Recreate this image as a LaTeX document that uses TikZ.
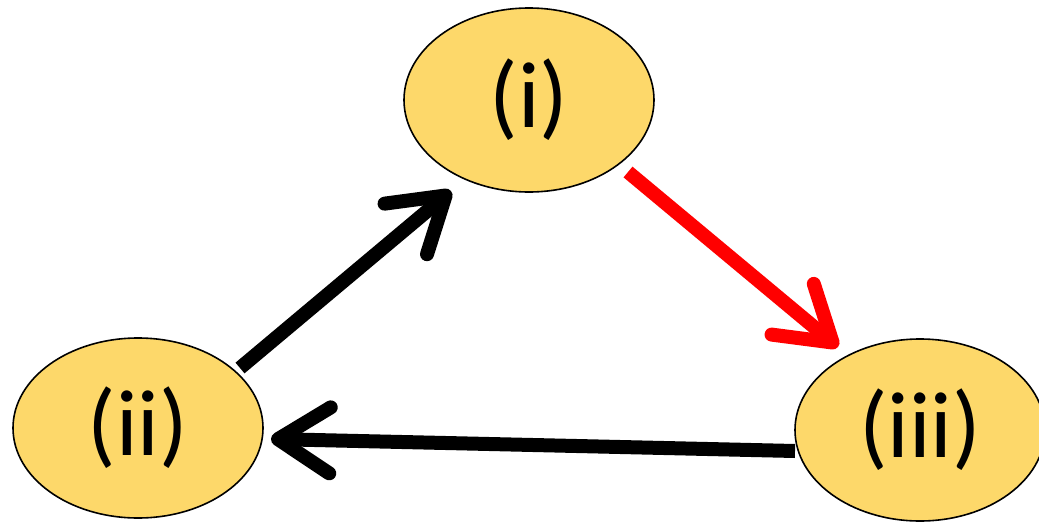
\documentclass[tikz,border=0pt]{standalone}
\usepackage{fontspec}
\setmainfont{Carlito}
\usetikzlibrary{arrows.meta,shapes.geometric}
\definecolor{nodefill}{RGB}{253,216,106}
\begin{document}
\begin{tikzpicture}[x=1pt,y=-1pt,
  state/.style={ellipse,draw=black,line width=1.6pt,fill=nodefill,minimum width=250pt,minimum height=184pt,inner sep=0pt,font=\fontsize{94}{100}\selectfont},
  bigarrow/.style={line width=14pt,-{Straight Barb[length=52pt,width=66pt,round]}}
]
\useasboundingbox (0,0) rectangle (1039,522);
\node[state] (i) at (529,100) {(i)};
\node[state,minimum height=180pt] (ii) at (138,428) {(ii)};
\node[state,minimum height=182pt] (iii) at (920,430) {(iii)};
\coordinate (a1) at (628,172);
\coordinate (a2) at (838,347);
\coordinate (b1) at (240,368);
\coordinate (b2) at (451,191);
\coordinate (c1) at (795,451);
\coordinate (c2) at (271,439);
\draw[bigarrow,red] (a1) -- (a2);
\draw[bigarrow] (b1) -- (b2);
\draw[bigarrow] (c1) -- (c2);
\end{tikzpicture}
\end{document}
